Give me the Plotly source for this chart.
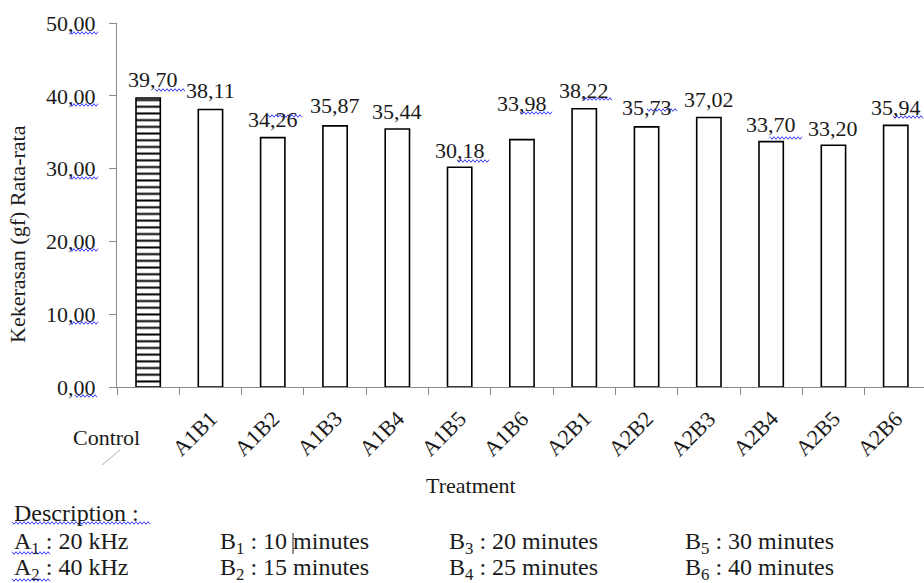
import plotly.graph_objects as go

# ---- data ----
categories = ["Control", "A1B1", "A1B2", "A1B3", "A1B4", "A1B5", "A1B6",
              "A2B1", "A2B2", "A2B3", "A2B4", "A2B5", "A2B6"]
values = [39.70, 38.11, 34.26, 35.87, 35.44, 30.18, 33.98,
          38.22, 35.73, 37.02, 33.70, 33.20, 35.94]
y_ticks = [0, 10, 20, 30, 40, 50]
x_title = "Treatment"
y_title = "Kekerasan (gf) Rata-rata"
desc_title = "Description :"
desc_col_a = ["A<sub>1</sub> : 20 kHz", "A<sub>2</sub> : 40 kHz"]
desc_col_b1 = ["B<sub>1</sub> : 10 minutes", "B<sub>2</sub> : 15 minutes"]
desc_col_b2 = ["B<sub>3</sub> : 20 minutes", "B<sub>4</sub> : 25 minutes"]
desc_col_b3 = ["B<sub>5</sub> : 30 minutes", "B<sub>6</sub> : 40 minutes"]

# ---- styling / placement (pixels) ----
W, H = 924, 583
ML, MR, MT, MB = 117, 0, 23, 196
PW = W - ML - MR
PH = H - MT - MB
FONT = "Liberation Serif"
TXT = "#1a1a1a"
AX = "#8a8a8a"
SQUIG = "#3b3bf0"
label_dx = [5, 0, 0, 0, 0, 0, 0, 0, 0, 0, 0, 0, 0]
label_dy = [18, 19, 18, 20, 18, 17, 36, 18, 19, 18, 17, 17, 18]
# decorative spell-check underlines seen in the source image (x0, x1, y in px)
squiggles = [(70, 98, 33), (70, 98, 105), (70, 98, 178), (70, 98, 250),
             (70, 98, 323), (75, 98, 396),
             (155, 185, 90), (268, 302, 116), (457, 490, 161), (520, 553, 113),
             (582, 613, 99), (647, 678, 110), (770, 803, 138), (893, 924, 117),
             (12, 150, 523), (12, 50, 553), (12, 50, 580)]


def px_x(p):
    return (p - ML) / PW


def px_y(p):
    return (H - MB - p) / PH


cat_px = 62.3
x_max = -0.5 + PW / cat_px

patterns = ["-" if c == "Control" else "" for c in categories]

fig = go.Figure()
fig.add_trace(go.Bar(
    x=categories, y=values, width=0.39,
    marker=dict(color="white",
                line=dict(color="black", width=1.6),
                pattern=dict(shape=patterns, size=6.7, solidity=0.3,
                             fgcolor="black", bgcolor="white", fillmode="replace")),
    showlegend=False, hoverinfo="skip",
))

annotations = []
# value labels
for i, (c, v) in enumerate(zip(categories, values)):
    annotations.append(dict(
        x=c, y=v, xref="x", yref="y", text=f"{v:.2f}".replace(".", ","),
        showarrow=False, xanchor="center", yanchor="middle",
        xshift=label_dx[i], yshift=label_dy[i],
        font=dict(family=FONT, size=22, color=TXT)))

# category labels
for i, c in enumerate(categories):
    if c == "Control":
        annotations.append(dict(
            x=c, y=0, xref="x", yref="paper", text=c, showarrow=False,
            xanchor="center", yanchor="middle", xshift=-42, yshift=-50,
            font=dict(family=FONT, size=22, color=TXT)))
    else:
        annotations.append(dict(
            x=c, y=0, xref="x", yref="paper", text=c, showarrow=False,
            textangle=-45, xanchor="center", yanchor="middle",
            xshift=-16, yshift=-46,
            font=dict(family=FONT, size=22, color=TXT)))

# axis titles
annotations.append(dict(
    x=px_x(471), y=px_y(485), xref="paper", yref="paper", text=x_title,
    showarrow=False, xanchor="center", yanchor="middle",
    font=dict(family=FONT, size=22, color=TXT)))
annotations.append(dict(
    x=px_x(18), y=px_y(234), xref="paper", yref="paper", text=y_title,
    showarrow=False, textangle=-90, xanchor="center", yanchor="middle",
    font=dict(family=FONT, size=22, color=TXT)))

# description block
annotations.append(dict(
    x=px_x(12), y=px_y(513), xref="paper", yref="paper", text=desc_title,
    showarrow=False, xanchor="left", yanchor="middle",
    font=dict(family=FONT, size=24, color=TXT)))
for col_x, col in [(12, desc_col_a), (218, desc_col_b1), (447, desc_col_b2), (683, desc_col_b3)]:
    for row_y, t in zip([543, 569], col):
        annotations.append(dict(
            x=px_x(col_x), y=px_y(row_y), xref="paper", yref="paper", text=t,
            showarrow=False, xanchor="left", yanchor="middle",
            font=dict(family=FONT, size=24, color=TXT)))

shapes = [
    dict(type="line", xref="paper", yref="paper",
         x0=px_x(102), y0=px_y(465), x1=px_x(120), y1=px_y(450),
         line=dict(color="#b0b0b0", width=1)),
    dict(type="line", xref="paper", yref="paper",
         x0=px_x(293), y0=px_y(533), x1=px_x(293), y1=px_y(554),
         line=dict(color="#222", width=1)),
]


def squiggle_path(x0, x1, y):
    pts = []
    x = x0
    k = 0
    while x <= x1:
        dy = -1.3 if k % 2 == 0 else 1.3
        pts.append((px_x(x), px_y(y + dy)))
        x += 2
        k += 1
    return "M " + " L ".join(f"{a:.5f},{b:.5f}" for a, b in pts)


for (a, b, yy) in squiggles:
    shapes.append(dict(type="path", xref="paper", yref="paper",
                       path=squiggle_path(a, b, yy),
                       line=dict(color=SQUIG, width=1)))

fig.update_layout(
    width=W, height=H, autosize=False,
    margin=dict(l=ML, r=MR, t=MT, b=MB, pad=0),
    paper_bgcolor="white", plot_bgcolor="white",
    separators=", ",
    font=dict(family=FONT, color=TXT),
    annotations=annotations, shapes=shapes,
    xaxis=dict(type="category", range=[-0.5, x_max], tickson="boundaries",
               ticks="outside", ticklen=7, tickcolor=AX, showline=True,
               linecolor=AX, linewidth=1, showticklabels=False,
               showgrid=False, zeroline=False, fixedrange=True),
    yaxis=dict(range=[0, 50], tickvals=y_ticks, tickformat=".2f",
               ticks="outside", ticklen=7, tickcolor=AX, showline=True,
               linecolor=AX, linewidth=1, showgrid=False, zeroline=False,
               tickfont=dict(family=FONT, size=22, color=TXT),
               ticklabelstandoff=9, fixedrange=True),
)

fig.write_html("out.html", config={"displayModeBar": False})
